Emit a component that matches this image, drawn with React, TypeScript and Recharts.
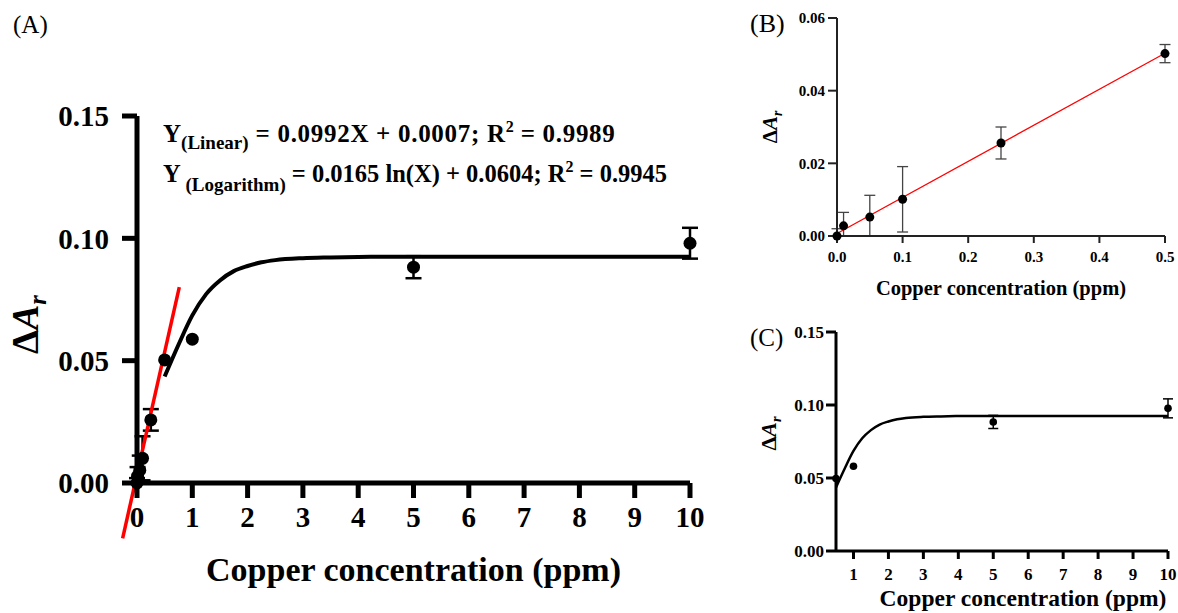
import React from 'react';
import { ComposedChart, Scatter, Line, XAxis, YAxis, ErrorBar, ReferenceLine } from 'recharts';

const FONT = '"Liberation Serif", "Times New Roman", Times, serif';

// ---------- Panel A (full range) ----------  (null = no visible error bar)
const concA = [0, 0.01, 0.05, 0.1, 0.25, 0.5, 1, 5, 10];
const deltaA = [0.0, 0.0028, 0.0052, 0.0101, 0.0258, 0.0503, 0.0588, 0.0882, 0.098];
const errA: (number | null)[] = [0.002, 0.0037, 0.006, 0.009, 0.0044, null, null, 0.0045, 0.0063];

// ---------- Panel B (0 - 0.5 ppm) ----------
const concB = [0, 0.01, 0.05, 0.1, 0.25, 0.5];
const deltaB = [0.0, 0.0028, 0.0052, 0.0101, 0.0256, 0.0502];
const errB: (number | null)[] = [0.002, 0.0037, 0.006, 0.009, 0.0044, 0.0025];

// ---------- Panel C (0.5 - 10 ppm) ----------
const concC = [0.5, 1, 5, 10];
const deltaC = [0.0497, 0.058, 0.0884, 0.0977];
const errC: (number | null)[] = [null, null, 0.0045, 0.0065];

// saturation (logarithmic-type) fitted curve
const curveX = [0.5, 0.75, 1, 1.25, 1.5, 1.75, 2, 2.25, 2.5, 3, 3.5, 4, 5, 6, 8, 10];
const curveY = [0.0435, 0.0565, 0.0685, 0.0772, 0.0828, 0.0866, 0.0887, 0.0902, 0.0911, 0.0919, 0.0922, 0.0924, 0.0925, 0.0925, 0.0925, 0.0925];

// linear fit segments
const linAX = [-0.26, 0.765];
const linAY = [-0.0226, 0.0801];
const linBX = [0, 0.5];
const linBY = [0.0007, 0.0503];

// tick labels
const ticksA_X = [0, 1, 2, 3, 4, 5, 6, 7, 8, 9, 10];
const ticksA_Y = [0, 0.05, 0.1, 0.15];
const ticksB_X = [0, 0.1, 0.2, 0.3, 0.4, 0.5];
const ticksB_Y = [0, 0.02, 0.04, 0.06];
const ticksC_X = [1, 2, 3, 4, 5, 6, 7, 8, 9, 10];
const ticksC_Y = [0, 0.05, 0.1, 0.15];

const XTITLE = 'Copper concentration (ppm)';

// error bars are hidden below the x axis (0), so the lower arm stops at 0
const withErr = (xs: number[], ys: number[], es: (number | null)[]) =>
  xs.map((x, i) => {
    const e = es[i];
    return { x, y: ys[i], err: e == null ? undefined : [Math.min(e, ys[i]), e] };
  });
const pairs = (xs: number[], ys: number[]) => xs.map((x, i) => ({ x, y: ys[i] }));

const dataA = withErr(concA, deltaA, errA);
const dataB = withErr(concB, deltaB, errB);
const dataC = withErr(concC, deltaC, errC);
const curveData = pairs(curveX, curveY);
const lineB = pairs(linBX, linBY);

const dot = (r: number) => (p: any) => <circle cx={p.cx} cy={p.cy} r={r} fill="#000" />;

const xTitle = (size: number, baseline: number, dx = 0) => (props: any) => {
  const vb = props.viewBox || { x: 0, y: 0, width: 0, height: 0 };
  return (
    <text x={vb.x + vb.width / 2 + dx} y={vb.y + baseline} textAnchor="middle" fontFamily={FONT} fontWeight="bold" fontSize={size} fill="#000">
      {XTITLE}
    </text>
  );
};

const yTitle = (size: number, cx: number, dy: number) => (props: any) => {
  const vb = props.viewBox || { x: 0, y: 0, width: 0, height: 0 };
  const x = vb.x + cx;
  const y = vb.y + vb.height / 2 + dy;
  return (
    <text transform={`translate(${x},${y}) rotate(-90)`} textAnchor="middle" fontFamily={FONT} fontWeight="bold" fontSize={size} fill="#000">
      Δ<tspan fontStyle="italic">A</tspan>
      <tspan fontStyle="italic" fontSize={size * 0.65} dy={size * 0.22}>r</tspan>
    </text>
  );
};

const tickStyle = (size: number) => ({ fill: '#000', fontSize: size, fontWeight: 'bold', fontFamily: FONT });

function PanelA() {
  return (
    <ComposedChart width={740} height={613} margin={{ top: 116, right: 50, bottom: 0, left: 0 }}>
      <XAxis
        dataKey="x"
        type="number"
        domain={[0, 10]}
        ticks={ticksA_X}
        interval={0}
        tick={tickStyle(29)}
        tickSize={15}
        tickMargin={8}
        axisLine={{ stroke: '#000', strokeWidth: 5 }}
        tickLine={{ stroke: '#000', strokeWidth: 5 }}
        height={130}
        label={xTitle(34, 98)}
      />
      <YAxis
        type="number"
        domain={[0, 0.15]}
        ticks={ticksA_Y}
        interval={0}
        tickFormatter={(v: number) => v.toFixed(2)}
        tick={tickStyle(29)}
        tickSize={15}
        tickMargin={13}
        axisLine={{ stroke: '#000', strokeWidth: 5 }}
        tickLine={{ stroke: '#000', strokeWidth: 5 }}
        width={137}
        label={yTitle(38, 38, 25)}
      />
      <Scatter data={dataA} dataKey="y" shape={dot(6.5)} isAnimationActive={false}>
        <ErrorBar dataKey="err" direction="y" width={8} stroke="#000" strokeWidth={2.5} />
      </Scatter>
      <Line data={curveData} dataKey="y" type="monotone" stroke="#000" strokeWidth={4} dot={false} isAnimationActive={false} />
      <ReferenceLine
        segment={[{ x: linAX[0], y: linAY[0] }, { x: linAX[1], y: linAY[1] }]}
        stroke="#ff0000"
        strokeWidth={3.5}
        ifOverflow="visible"
      />
    </ComposedChart>
  );
}

function PanelB() {
  return (
    <ComposedChart width={438} height={310} margin={{ top: 18, right: 13, bottom: 0, left: 0 }}>
      <XAxis
        dataKey="x"
        type="number"
        domain={[0, 0.5]}
        ticks={ticksB_X}
        interval={0}
        tickFormatter={(v: number) => v.toFixed(1)}
        tick={tickStyle(15)}
        tickSize={7}
        tickMargin={8}
        axisLine={{ stroke: '#222', strokeWidth: 2 }}
        tickLine={{ stroke: '#222', strokeWidth: 2 }}
        height={74}
        label={xTitle(20.5, 59)}
      />
      <YAxis
        type="number"
        domain={[0, 0.06]}
        ticks={ticksB_Y}
        interval={0}
        tickFormatter={(v: number) => v.toFixed(2)}
        tick={tickStyle(15)}
        tickSize={9}
        tickMargin={3}
        axisLine={{ stroke: '#222', strokeWidth: 2 }}
        tickLine={{ stroke: '#222', strokeWidth: 2 }}
        width={97}
        label={yTitle(21, 37, 0)}
      />
      <Line data={lineB} dataKey="y" type="linear" stroke="#ff0000" strokeWidth={1.3} dot={false} isAnimationActive={false} />
      <Scatter data={dataB} dataKey="y" shape={dot(4.5)} isAnimationActive={false}>
        <ErrorBar dataKey="err" direction="y" width={5.5} stroke="#444" strokeWidth={1.3} />
      </Scatter>
    </ComposedChart>
  );
}

function PanelC() {
  return (
    <ComposedChart width={438} height={303} margin={{ top: 22, right: 10, bottom: 0, left: 0 }}>
      <XAxis
        dataKey="x"
        type="number"
        domain={[0.5, 10]}
        ticks={ticksC_X}
        interval={0}
        tick={tickStyle(17)}
        tickSize={8}
        tickMargin={9}
        axisLine={{ stroke: '#000', strokeWidth: 3 }}
        tickLine={{ stroke: '#000', strokeWidth: 3 }}
        height={62}
        label={xTitle(23.5, 55, 21)}
      />
      <YAxis
        type="number"
        domain={[0, 0.15]}
        ticks={ticksC_Y}
        interval={0}
        tickFormatter={(v: number) => v.toFixed(2)}
        tick={tickStyle(17)}
        tickSize={10}
        tickMargin={2}
        axisLine={{ stroke: '#000', strokeWidth: 3 }}
        tickLine={{ stroke: '#000', strokeWidth: 3 }}
        width={96}
        label={yTitle(22, 36, -8)}
      />
      <Line data={curveData} dataKey="y" type="monotone" stroke="#000" strokeWidth={2.5} dot={false} isAnimationActive={false} />
      <Scatter data={dataC} dataKey="y" shape={dot(3.8)} isAnimationActive={false}>
        <ErrorBar dataKey="err" direction="y" width={5} stroke="#000" strokeWidth={1.5} />
      </Scatter>
    </ComposedChart>
  );
}

export default function App() {
  return (
    <div style={{ position: 'absolute', left: 0, top: 0, width: 1178, height: 613, background: '#fff', overflow: 'hidden' }}>
      <div style={{ position: 'absolute', left: 0, top: 0 }}>
        <PanelA />
      </div>
      <div style={{ position: 'absolute', left: 740, top: 0 }}>
        <PanelB />
      </div>
      <div style={{ position: 'absolute', left: 740, top: 310 }}>
        <PanelC />
      </div>
      <svg width={1178} height={613} style={{ position: 'absolute', left: 0, top: 0, pointerEvents: 'none' }}>
        <g fontFamily={FONT} fill="#000">
          <text x={13} y={33} fontSize={25}>(A)</text>
          <text x={750} y={32} fontSize={26}>(B)</text>
          <text x={750} y={346} fontSize={25}>(C)</text>
          <text x={163} y={142} fontSize={25} fontWeight="bold">
            Y<tspan fontSize={19} dy={7}>(Linear)</tspan>
            <tspan dy={-7} letterSpacing={0.7}> = 0.0992X + 0.0007; R</tspan>
            <tspan fontSize={16} dy={-10}>2</tspan>
            <tspan dy={10} letterSpacing={0.7}> = 0.9989</tspan>
          </text>
          <text x={163} y={182} fontSize={24.5} fontWeight="bold">
            Y<tspan fontSize={19} dy={9}> (Logarithm)</tspan>
            <tspan dy={-9}> = 0.0165 ln(X) + 0.0604; R</tspan>
            <tspan fontSize={16} dy={-10}>2</tspan>
            <tspan dy={10}> = 0.9945</tspan>
          </text>
        </g>
      </svg>
    </div>
  );
}
